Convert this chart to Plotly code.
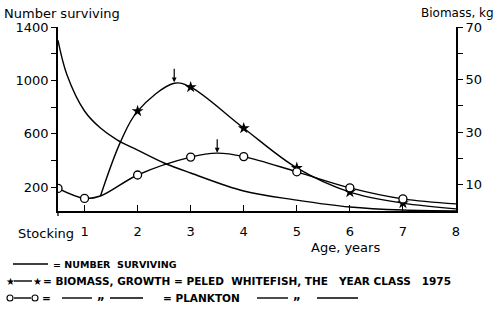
import plotly.graph_objects as go

# age axis: 0.5 = stocking, then years 1..8
age_surv = [0.5, 0.67, 1.0, 1.3, 1.62, 2.0, 2.5, 3.0, 4.0, 5.0, 6.0, 7.0, 8.0]
number_surviving = [1300, 1040, 770, 642, 552, 477, 380, 305, 170, 102, 50, 27, 20]

age_growth = [1.3, 1.68, 2.0, 2.69, 3.0, 4.0, 5.0, 6.0, 7.0, 8.0]
biomass_growth = [5.7, 26.4, 38.0, 48.6, 47.1, 31.5, 16.4, 7.2, 3.0, 0.8]
growth_marked = [2, 3, 4, 5, 6, 7]

age_plankton = [0.5, 1.0, 1.3, 2.0, 3.0, 3.5, 4.0, 5.0, 6.0, 7.0, 8.0]
biomass_plankton = [8.6, 4.8, 5.7, 13.7, 20.5, 22.0, 20.7, 14.9, 8.8, 4.6, 2.7]
plankton_marked = [0.5, 1, 2, 3, 4, 5, 6, 7]

# arrows marking the maxima
peak_growth = (2.69, 49.0)
peak_plankton = (3.5, 22.2)

x_ticks = [1, 2, 3, 4, 5, 6, 7, 8]
left_ticks = [200, 400, 600, 800, 1000, 1200, 1400]
left_text = ["200", "", "600", "", "1000", "", "1400"]
right_ticks = [10, 20, 30, 40, 50, 60, 70]
right_text = ["10", "", "30", "", "50", "", "70"]

FONT = "DejaVu Sans"
L, R, T, B = 58, 456, 27, 211  # plot area in pixels


def px(x):
    return (x - L) / (R - L)


def py(y):
    return (B - y) / (B - T)


fig = go.Figure()
line = dict(color="black", width=1.4, shape="spline", smoothing=1.0)

fig.add_trace(go.Scatter(x=age_surv, y=number_surviving, mode="lines", line=line,
                         yaxis="y", showlegend=False))
fig.add_trace(go.Scatter(x=age_growth, y=biomass_growth, mode="lines", line=line,
                         yaxis="y2", showlegend=False))
fig.add_trace(go.Scatter(x=age_plankton, y=biomass_plankton, mode="lines", line=line,
                         yaxis="y2", showlegend=False))

gx = [a for a in age_growth if a in growth_marked]
gy = [b for a, b in zip(age_growth, biomass_growth) if a in growth_marked]
fig.add_trace(go.Scatter(x=gx, y=gy, mode="markers", yaxis="y2", showlegend=False,
                         marker=dict(symbol="star", size=9, color="black")))
plx = [a for a in age_plankton if a in plankton_marked]
ply = [b for a, b in zip(age_plankton, biomass_plankton) if a in plankton_marked]
fig.add_trace(go.Scatter(x=plx, y=ply, mode="markers", yaxis="y2", showlegend=False,
                         marker=dict(symbol="circle", size=8, color="white",
                                     line=dict(color="black", width=1.3))))

for (ax_, ay_) in [peak_growth, peak_plankton]:
    fig.add_annotation(x=ax_, y=ay_, xref="x", yref="y2", ax=0, ay=-15, text="",
                       showarrow=True, arrowhead=2, arrowsize=0.8, arrowwidth=1.2,
                       arrowcolor="black")

tickfont = dict(family=FONT, size=13, color="black")
fig.update_layout(
    width=500, height=309, margin=dict(l=L, r=500 - R, t=T, b=309 - B),
    paper_bgcolor="white", plot_bgcolor="white",
    font=dict(family=FONT, color="black"),
    xaxis=dict(range=[0.5, 8], tickvals=x_ticks, ticktext=[str(v) for v in x_ticks],
               ticks="inside", ticklen=6, tickwidth=1.3, tickcolor="black",
               showline=True, linecolor="black", linewidth=1.6, showgrid=False,
               zeroline=False, tickfont=tickfont, ticklabelstandoff=8),
    yaxis=dict(range=[20, 1400], tickvals=left_ticks, ticktext=left_text,
               ticks="outside", ticklen=5, tickwidth=1.3, tickcolor="black",
               showline=True, linecolor="black", linewidth=1.6, showgrid=False,
               zeroline=False, tickfont=tickfont),
    yaxis2=dict(range=[0, 70], tickvals=right_ticks, ticktext=right_text,
                overlaying="y", side="right",
                ticks="outside", ticklen=5, tickwidth=1.3, tickcolor="black",
                showline=True, linecolor="black", linewidth=1.6, showgrid=False,
                zeroline=False, tickfont=tickfont),
)

# axis titles and tick extras
fig.add_annotation(x=px(2), y=py(13), xref="paper", yref="paper", xanchor="left",
                   yanchor="middle", showarrow=False, text="Number surviving",
                   font=dict(family=FONT, size=13))
fig.add_annotation(x=px(496), y=py(13), xref="paper", yref="paper", xanchor="right",
                   yanchor="middle", showarrow=False, text="Biomass,\u00a0kg",
                   font=dict(family=FONT, size=12))
fig.add_annotation(x=px(76), y=py(233), xref="paper", yref="paper", xanchor="right",
                   yanchor="middle", showarrow=False, text="Stocking",
                   font=dict(family=FONT, size=13))
fig.add_annotation(x=px(345), y=py(247), xref="paper", yref="paper", xanchor="center",
                   yanchor="middle", showarrow=False, text="Age, years",
                   font=dict(family=FONT, size=13))
fig.add_shape(type="line", xref="paper", yref="paper", x0=0, x1=0,
              y0=py(B), y1=py(B + 5), line=dict(color="black", width=1.3))

# legend drawn by hand
def seg(x0, x1, y):
    fig.add_shape(type="line", xref="paper", yref="paper", x0=px(x0), x1=px(x1),
                  y0=py(y), y1=py(y), line=dict(color="black", width=1.4))


def txt(x, y, s, size=10.5):
    fig.add_annotation(x=px(x), y=py(y), xref="paper", yref="paper", xanchor="left",
                       yanchor="middle", showarrow=False, text=s,
                       font=dict(family=FONT, size=size, weight="bold"))


def circ(x, y, r=3):
    fig.add_shape(type="circle", xref="paper", yref="paper",
                  x0=px(x - r), x1=px(x + r), y0=py(y - r), y1=py(y + r),
                  line=dict(color="black", width=1.1), fillcolor="white")


sp = "\u00a0"
seg(13, 48, 264)
txt(51, 264, "=" + sp + "NUMBER" + sp * 2 + "SURVIVING", 9.5)

txt(4, 281, "\u2605", 10)
seg(14, 32, 281)
txt(31, 281, "\u2605", 10)
txt(41, 281, "=" + sp + "BIOMASS," + sp + "GROWTH" + sp + "=" + sp + "PELED" + sp * 2 +
    "WHITEFISH," + sp + "THE" + sp * 3 + "YEAR" + sp + "CLASS" + sp * 3 + "1975")

circ(10, 298)
seg(14, 31, 298)
circ(35, 298)
txt(40, 298, "=")
seg(62, 92, 298)
txt(95, 295, "\u201e", 12)
seg(110, 143, 298)
txt(161, 298, "=" + sp + "PLANKTON")
seg(257, 288, 298)
txt(291, 295, "\u201e", 12)
seg(317, 358, 298)

fig.write_html("out.html", config={"displayModeBar": False},
               post_script="document.body.style.margin='0';")
